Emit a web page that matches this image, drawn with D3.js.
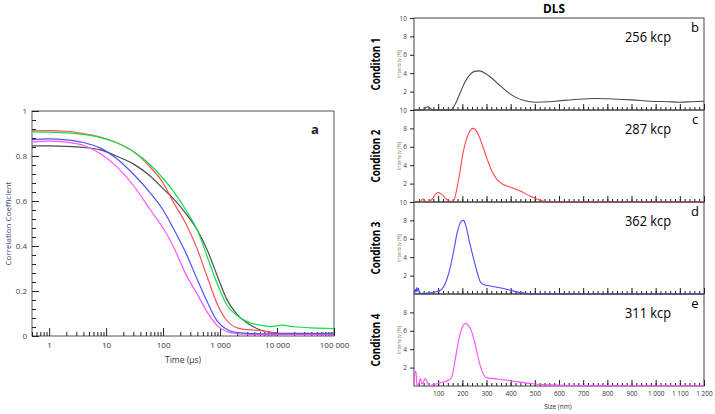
<!DOCTYPE html>
<html>
<head>
<meta charset="utf-8">
<script src="https://cdn.jsdelivr.net/npm/d3@7"></script>
<style>
  body { margin: 0; background: #fff; }
  svg { display: block; }
  text { font-family: 'Open Sans', sans-serif; }
</style>
</head>
<body>
<svg width="715" height="414"></svg>
<script>
// Panel a: correlation functions
const timeUs = [0.5, 1, 2, 4, 8, 15, 30, 60, 100, 150, 250, 400, 600, 900, 1300, 2000, 3000, 5000, 8000, 12000, 20000, 40000, 100000];
const corrBlack = [0.845, 0.845, 0.843, 0.838, 0.827, 0.80, 0.765, 0.71, 0.655, 0.612, 0.545, 0.47, 0.38, 0.265, 0.165, 0.095, 0.058, 0.028, 0.016, 0.012, 0.012, 0.012, 0.012];
const corrRed = [0.912, 0.913, 0.91, 0.90, 0.884, 0.86, 0.82, 0.75, 0.68, 0.597, 0.50, 0.385, 0.26, 0.14, 0.07, 0.036, 0.028, 0.025, 0.015, 0.01, 0.01, 0.008, 0.008];
const corrGreen = [0.907, 0.906, 0.903, 0.896, 0.882, 0.86, 0.82, 0.76, 0.70, 0.645, 0.56, 0.47, 0.35, 0.23, 0.14, 0.09, 0.064, 0.048, 0.042, 0.048, 0.041, 0.036, 0.033];
const corrBlue = [0.873, 0.876, 0.872, 0.86, 0.835, 0.79, 0.72, 0.635, 0.56, 0.48, 0.37, 0.25, 0.15, 0.065, 0.03, 0.015, 0.012, 0.01, 0.01, 0.01, 0.01, 0.01, 0.01];
const corrMagenta = [0.862, 0.866, 0.862, 0.848, 0.81, 0.755, 0.67, 0.56, 0.48, 0.40, 0.275, 0.185, 0.105, 0.045, 0.02, 0.01, 0.008, 0.006, 0.006, 0.006, 0.006, 0.006, 0.006];
const timeTicks = [1, 10, 100, 1000, 10000, 100000];
const timeTickLabels = ['1', '10', '100', '1 000', '10 000', '100 000'];
const corrTicks = [0, 0.2, 0.4, 0.6, 0.8, 1];
const corrTickLabels = ['0', '0.2', '0.4', '0.6', '0.8', '1'];

// Panels b-e: size distributions
const cond1Size = [0, 40, 50, 60, 70, 80, 150, 170, 190, 210, 230, 250, 270, 290, 320, 350, 380, 420, 460, 500, 560, 620, 700, 760, 820, 900, 980, 1050, 1100, 1150, 1200];
const cond1Int = [0, 0, 0.3, 0.35, 0.1, 0, 0, 0.6, 1.8, 3.0, 3.8, 4.2, 4.25, 4.05, 3.5, 2.8, 2.1, 1.4, 1.0, 0.85, 0.9, 1.05, 1.2, 1.25, 1.2, 1.1, 0.95, 0.9, 0.85, 0.9, 0.95];
const cond2Size = [0, 25, 37, 50, 75, 90, 100, 115, 135, 155, 165, 185, 205, 225, 245, 265, 285, 305, 325, 345, 370, 400, 440, 480, 520, 560, 1200];
const cond2Int = [0, 0, 0.35, 0, 0.3, 0.85, 1.05, 0.8, 0.3, 0.05, 0.2, 2.5, 5.6, 7.4, 8.0, 7.4, 6.0, 4.5, 3.2, 2.4, 1.9, 1.6, 1.2, 0.65, 0.2, 0, 0];
const cond3Size = [0, 5, 8, 11, 14, 18, 22, 30, 60, 90, 110, 130, 150, 165, 180, 195, 205, 215, 230, 245, 260, 275, 290, 320, 360, 400, 440, 480, 520, 1200];
const cond3Int = [0.1, 0.5, 0.2, 0.7, 0.3, 0.65, 0.2, 0.05, 0.1, 0.25, 0.4, 1.2, 2.9, 4.8, 6.8, 7.9, 8.0, 7.4, 5.6, 4.0, 2.5, 1.3, 1.0, 0.85, 0.65, 0.4, 0.15, 0.02, 0, 0];
const cond4Size = [0, 4, 8, 12, 20, 27, 33, 38, 46, 52, 62, 80, 110, 140, 155, 170, 185, 200, 212, 225, 240, 255, 270, 285, 300, 330, 380, 430, 490, 560, 640, 800, 1000, 1200];
const cond4Int = [0, 1.6, 1.5, 0.1, 0.3, 0.8, 0.2, 0.4, 0.8, 0.6, 0.05, 0.15, 0.35, 0.6, 0.9, 2.8, 5.0, 6.4, 6.8, 6.6, 5.8, 4.3, 2.6, 1.4, 0.9, 0.8, 0.65, 0.45, 0.25, 0.12, 0.06, 0.04, 0.03, 0.03];
const conditionLabels = ['Conditon 1', 'Conditon 2', 'Conditon 3', 'Conditon 4'];
const kcpLabels = ['256 kcp', '287 kcp', '362 kcp', '311 kcp'];
const panelLetters = ['b', 'c', 'd', 'e'];
const intensityTicks = [[2, 4, 6, 8, 10], [2, 4, 6, 8, 10], [2, 4, 6, 8, 10], [2, 4, 6, 8]];
const sizeTicks = [100, 200, 300, 400, 500, 600, 700, 800, 900, 1000, 1100, 1200];
const sizeTickLabels = ['100', '200', '300', '400', '500', '600', '700', '800', '900', '1 000', '1 100', '1 200'];

const svg = d3.select('svg');

// ---------- panel a ----------
const a = {left: 32, right: 334, top: 111, bottom: 336};
const x = d3.scaleLog().domain([0.5, 100000]).range([a.left, a.right]);
const y = d3.scaleLinear().domain([0, 1]).range([a.bottom, a.top]);

const gA = svg.append('g');

gA.append('rect')
  .attr('x', a.left).attr('y', a.top)
  .attr('width', a.right - a.left).attr('height', a.bottom - a.top)
  .attr('fill', 'none').attr('stroke', '#555');

let minorTime = [];
[0.1, 1, 10, 100, 1000, 10000].forEach(dec => {
  for (let k = 2; k <= 9; k++) {
    let v = dec * k;
    if (v >= 0.5 && v < 100000) minorTime.push(v);
  }
});

const styleAxis = g => {
  g.select('.domain').remove();
  g.selectAll('line').attr('stroke', '#222');
};

gA.append('g')
  .attr('transform', `translate(0,${a.bottom})`)
  .call(d3.axisBottom(x).tickValues(minorTime).tickSize(-4).tickFormat(''))
  .call(styleAxis);
gA.append('g')
  .attr('transform', `translate(0,${a.bottom})`)
  .call(d3.axisBottom(x).tickValues(timeTicks).tickSize(-8).tickPadding(6)
    .tickFormat((d, i) => timeTickLabels[i]))
  .call(styleAxis)
  .call(g => g.selectAll('text').attr('font-size', 8).attr('fill', '#333')
    .attr('font-family', 'Open Sans'));

gA.append('g')
  .attr('transform', `translate(${a.left},0)`)
  .call(d3.axisLeft(y).tickValues(d3.range(0, 1.001, 0.04)).tickSize(-4).tickFormat(''))
  .call(styleAxis);
gA.append('g')
  .attr('transform', `translate(${a.left},0)`)
  .call(d3.axisLeft(y).tickValues(corrTicks).tickSize(-7).tickPadding(5)
    .tickFormat((d, i) => corrTickLabels[i]))
  .call(styleAxis)
  .call(g => g.selectAll('text').attr('font-size', 8).attr('fill', '#3a4256')
    .attr('font-family', 'Open Sans'));

gA.append('text')
  .attr('x', (a.left + a.right) / 2).attr('y', 363)
  .attr('text-anchor', 'middle').attr('font-size', 8.5).attr('fill', '#333')
  .text('Time (µs)');
gA.append('text')
  .attr('transform', `translate(11,${(a.top + a.bottom) / 2}) rotate(-90)`)
  .attr('text-anchor', 'middle').attr('font-size', 8).attr('fill', '#34496e')
  .text('Correlation Coefficient');
gA.append('text')
  .attr('x', 315).attr('y', 134)
  .attr('text-anchor', 'middle').attr('font-size', 13).attr('font-weight', 700)
  .attr('fill', '#222')
  .text('a');

const corrLine = d3.line()
  .x((d, i) => x(timeUs[i]))
  .y(d => y(d))
  .curve(d3.curveMonotoneX);

const corrSeries = [
  {values: corrBlack, color: '#4d4d4d'},
  {values: corrRed, color: '#ff5050'},
  {values: corrMagenta, color: '#ff55ff'},
  {values: corrBlue, color: '#5050ff'},
  {values: corrGreen, color: '#10e050'}
];

gA.append('g')
  .selectAll('path')
  .data(corrSeries).enter()
  .append('path')
  .attr('fill', 'none')
  .attr('stroke', d => d.color)
  .attr('stroke-width', 1.2)
  .attr('d', d => corrLine(d.values));

// ---------- panels b-e ----------
const b = {left: 414, right: 704, top: 18, height: 92};
const xs = d3.scaleLinear().domain([0, 1200]).range([b.left, b.right]);

const distSeries = [
  {size: cond1Size, values: cond1Int, color: '#4a4a4a'},
  {size: cond2Size, values: cond2Int, color: '#ff4a4a'},
  {size: cond3Size, values: cond3Int, color: '#4a4aff'},
  {size: cond4Size, values: cond4Int, color: '#ff4aff'}
];

svg.append('text')
  .attr('x', 554).attr('y', 13)
  .attr('text-anchor', 'middle').attr('font-size', 12).attr('font-weight', 700)
  .attr('textLength', 22).attr('lengthAdjust', 'spacingAndGlyphs')
  .text('DLS');

distSeries.forEach((s, p) => {
  let top = b.top + p * b.height;
  let bottom = top + b.height;
  let ys = d3.scaleLinear().domain([0, 10]).range([bottom, top]);
  let g = svg.append('g');

  g.append('rect')
    .attr('x', b.left).attr('y', top)
    .attr('width', b.right - b.left).attr('height', b.height)
    .attr('fill', 'none').attr('stroke', '#444');

  g.append('g')
    .attr('transform', `translate(0,${bottom})`)
    .call(d3.axisBottom(xs).tickValues(d3.range(20, 1200, 20)).tickSize(-3).tickFormat(''))
    .call(styleAxis);
  let major = g.append('g')
    .attr('transform', `translate(0,${bottom})`)
    .call(d3.axisBottom(xs).tickValues(sizeTicks).tickSize(-6).tickPadding(5)
      .tickFormat((d, i) => p === 3 ? sizeTickLabels[i] : ''))
    .call(styleAxis);
  major.selectAll('text').attr('font-size', 6.5).attr('fill', '#333');

  g.append('g')
    .attr('transform', `translate(${b.left},0)`)
    .call(d3.axisLeft(ys).tickValues(intensityTicks[p]).tickSize(4).tickPadding(3)
      .tickFormat(d3.format('d')))
    .call(styleAxis)
    .call(g2 => g2.selectAll('text').attr('font-size', 6.5).attr('fill', '#444'));

  let line = d3.line()
    .x((d, i) => xs(s.size[i]))
    .y(d => ys(d))
    .curve(d3.curveMonotoneX);

  g.append('path')
    .attr('fill', 'none')
    .attr('stroke', s.color)
    .attr('stroke-width', 1.1)
    .attr('d', line(s.values));

  let mid = (top + bottom) / 2;
  g.append('text')
    .attr('transform', `translate(380,${mid}) rotate(-90)`)
    .attr('text-anchor', 'middle').attr('font-size', 12).attr('font-weight', 700)
    .attr('textLength', 53).attr('lengthAdjust', 'spacingAndGlyphs')
    .text(conditionLabels[p]);
  g.append('text')
    .attr('transform', `translate(401,${mid}) rotate(-90)`)
    .attr('text-anchor', 'middle').attr('font-size', 5.5).attr('fill', '#8b7358')
    .attr('textLength', 28).attr('lengthAdjust', 'spacingAndGlyphs')
    .text('Intensity (%)');
  g.append('text')
    .attr('x', 648).attr('y', top + 24)
    .attr('text-anchor', 'middle').attr('font-size', 15)
    .attr('textLength', 46).attr('lengthAdjust', 'spacingAndGlyphs')
    .text(kcpLabels[p]);
  g.append('text')
    .attr('x', 695).attr('y', top + 14)
    .attr('text-anchor', 'middle').attr('font-size', 13)
    .text(panelLetters[p]);
});

svg.append('text')
  .attr('x', 558).attr('y', 409)
  .attr('text-anchor', 'middle').attr('font-size', 6.5).attr('fill', '#333')
  .text('Size (nm)');
</script>
</body>
</html>
